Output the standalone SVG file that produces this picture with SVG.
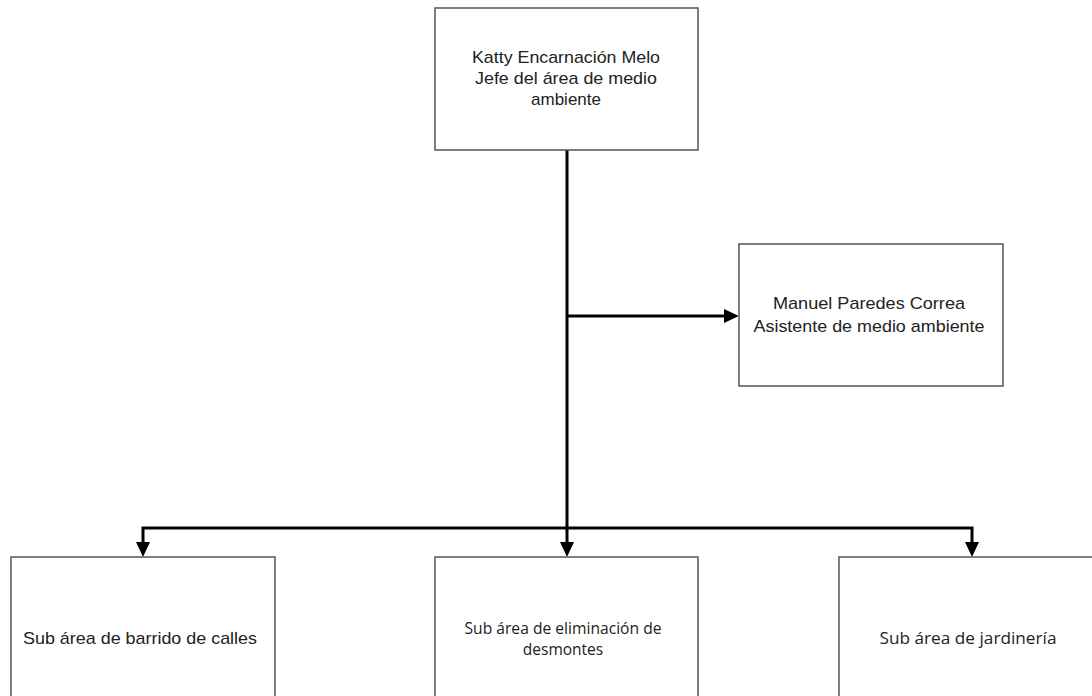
<svg xmlns="http://www.w3.org/2000/svg" width="1092" height="696" viewBox="0 0 1092 696">
<defs>
<style>
.box{fill:#fff;stroke:#555;stroke-width:1.5}
.t{font-family:"Liberation Sans",Arial,sans-serif;font-size:17px;fill:#222;text-anchor:middle}
.c{font-family:"Open Sans","Noto Sans",sans-serif;font-size:15.5px;fill:#222;text-anchor:middle}
.ln{fill:none;stroke:#000;stroke-width:3}
.ah{fill:#000}
</style>
</defs>
<rect width="1092" height="696" fill="#fff"/>
<g id="connectors">
<line class="ln" x1="567" y1="150" x2="567" y2="542"/>
<path class="ln" d="M567,316 L725,316"/>
<path class="ln" d="M567,528 L143,528 L143,542"/>
<path class="ln" d="M567,528 L972,528 L972,542"/>
<path class="ah" d="M136,542 L150,542 L143,557 Z"/>
<path class="ah" d="M560,542 L574,542 L567,557 Z"/>
<path class="ah" d="M965,542 L979,542 L972,557 Z"/>
<path class="ah" d="M724,309 L739,316 L724,323 Z"/>
</g>
<g id="n-jefe">
<rect class="box" x="435" y="8" width="263" height="142"/>
<text class="t" x="566" y="63" textLength="188" lengthAdjust="spacingAndGlyphs">Katty Encarnación Melo</text>
<text class="t" x="566" y="84" textLength="182" lengthAdjust="spacingAndGlyphs">Jefe del área de medio</text>
<text class="t" x="566" y="105">ambiente</text>
</g>
<g id="n-asistente">
<rect class="box" x="739" y="244" width="264" height="142"/>
<text class="t" x="869" y="309" textLength="192" lengthAdjust="spacingAndGlyphs">Manuel Paredes Correa</text>
<text class="t" x="869" y="332" textLength="231" lengthAdjust="spacingAndGlyphs">Asistente de medio ambiente</text>
</g>
<g id="n-barrido">
<rect class="box" x="11" y="557" width="264" height="150"/>
<text class="t" x="140" y="644" textLength="234" lengthAdjust="spacingAndGlyphs">Sub área de barrido de calles</text>
</g>
<g id="n-desmontes">
<rect class="box" x="435" y="557" width="263" height="150"/>
<text class="c" x="563" y="634" textLength="197" lengthAdjust="spacingAndGlyphs">Sub área de eliminación de</text>
<text class="c" x="563" y="655">desmontes</text>
</g>
<g id="n-jardineria">
<rect class="box" x="839" y="557" width="266" height="150"/>
<text class="c" x="968" y="644" textLength="177" lengthAdjust="spacingAndGlyphs">Sub área de jardinería</text>
</g>
</svg>
